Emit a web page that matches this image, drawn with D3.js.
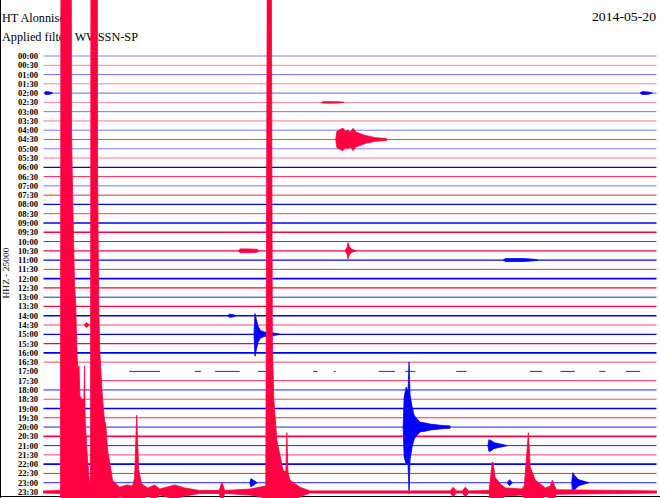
<!DOCTYPE html>
<html><head><meta charset="utf-8">
<script src="https://cdn.jsdelivr.net/npm/d3@7"></script>
<style>html,body{margin:0;padding:0;background:#fff;}svg{display:block;}</style>
</head><body>
<script>
// ---------- DATA ----------
const station = "HT Alonnisos";
const filterText = "Applied filter: WWSSN-SP";
const dateText = "2014-05-20";
const channelText = "HHZ - 25000";
const traceLabels = ["00:00","00:30","01:00","01:30","02:00","02:30","03:00","03:30","04:00","04:30","05:00","05:30",
"06:00","06:30","07:00","07:30","08:00","08:30","09:00","09:30","10:00","10:30","11:00","11:30",
"12:00","12:30","13:00","13:30","14:00","14:30","15:00","15:30","16:00","16:30","17:00","17:30",
"18:00","18:30","19:00","19:30","20:00","20:30","21:00","21:30","22:00","22:30","23:00","23:30"];
// background noise level of each trace (thousand counts)
const traceNoise = [1.0,1.0,1.2,1.0,1.5,1.0,1.2,1.2,1.2,2.0,1.0,1.2,
3.0,2.5,1.2,2.5,3.0,2.0,3.0,3.0,2.0,3.0,3.0,2.5,
3.5,3.0,2.5,3.0,3.5,2.0,3.0,3.0,3.5,2.0,2.5,2.5,
2.5,2.0,3.5,2.5,2.5,3.5,2.5,2.0,3.5,2.5,2.5,3.0];
// recorded segments (minutes) for traces with data gaps
const segments1700 = [[4.2,5.7],[7.4,7.7],[8.4,9.6],[10.5,11.1],[13.2,13.4],[14.2,14.3],[16.4,17.2],[17.7,18.2],[20.2,20.7],[23.8,24.4],[25.3,26.0],[27.2,27.5],[28.5,29.2]];
const segments1730 = [[2.8,30]];
// event envelopes: [minute, amplitude up (k counts), amplitude down (k counts, optional)]
const ev0200a = [[0.05,0],[0.1,4],[0.3,3],[0.45,0]];
const ev0200b = [[29.2,0],[29.3,4],[29.6,3],[29.8,0]];
const ev0230 = [[13.6,0],[13.7,2],[14.1,2],[14.5,1.5],[14.7,0]];
const ev0430 = [[14.3,0],[14.36,22],[14.51,27],[14.66,30],[14.78,22],[14.9,25],[15.02,20],[15.15,30],[15.29,20],[15.49,16],[15.74,11],[15.98,8],[16.23,5],[16.47,4],[16.81,2]];
const ev1030a = [[9.55,0],[9.62,5],[10.0,5],[10.45,4],[10.55,0]];
const ev1030b = [[14.75,0],[14.85,8],[14.9,22],[14.98,10],[15.1,4],[15.3,0]];
const ev1100 = [[22.5,0],[22.6,4],[23.5,4],[24.0,2],[24.2,0]];
const ev1400 = [[9.0,0],[9.1,4],[9.3,3],[9.4,0]];
const ev1430a = [[2.0,0],[2.1,7],[2.25,0]];
const ev1430b = [[10.95,0],[11.0,10],[11.1,0]];
const ev1500 = [[10.3,0],[10.35,56,59],[10.42,40],[10.5,22],[10.62,10],[10.8,6],[11.2,4],[11.6,0]];
const ev2000 = [[17.6,0],[17.65,81],[17.75,108,100],[17.84,95],[17.89,175,180],[17.94,86],[18.04,54],[18.14,32],[18.28,22],[18.43,13],[18.68,11],[18.92,8],[19.41,5],[19.9,3]];
const ev2100 = [[21.75,0],[21.8,16],[21.9,14],[22.05,8],[22.3,5],[22.55,2],[22.7,0]];
const ev2300a = [[10.1,0],[10.15,11],[10.3,6],[10.45,0]];
const ev2300b = [[22.7,0],[22.8,8],[22.95,0]];
const ev2300c = [[25.85,0],[25.9,27,30],[26.0,18],[26.2,8],[26.5,3],[26.7,0]];
// the large 23:30 recording (envelope, k counts)
const ev2330 = [[0,3],[0.83,4],[0.86,2000],[1.35,2000],[1.37,975],[1.42,810],[1.52,555],[1.57,515],[1.62,410],[1.67,330],[1.74,340],[1.78,260],[1.86,250],[1.98,250],[2.01,340],[2.04,190],[2.16,85],[2.25,27],[2.30,32],[2.33,2000],[2.62,2000],[2.65,840],[2.70,515],[2.75,380],[2.89,250],[2.99,190],[3.04,185],[3.14,113],[3.38,32],[3.73,13],[4.07,19],[4.36,16],[4.46,38],[4.56,207],[4.66,59],[4.80,22],[5.10,11],[5.44,19],[5.69,8],[6.42,19],[6.91,11],[7.65,4],[8.6,4],[8.73,27],[8.87,4],[10.10,8],[10.88,16],[10.98,2000],[11.12,2000],[11.2,400],[11.27,250],[11.42,140],[11.72,59],[11.86,54],[11.91,160],[11.96,54],[12.06,32],[12.55,13],[13.04,3],[19.9,3],[20.05,13],[20.2,3],[20.5,3],[20.64,13],[20.8,3],[21.81,4],[21.96,80],[22.0,80],[22.1,40],[22.35,22],[22.6,11],[23.4,8],[23.53,16],[23.73,160],[23.82,67],[24.07,32],[24.56,11],[24.8,16],[24.9,32],[25.1,6],[30,3]];
const events = [
  {trace:"02:00", env:ev0200a},{trace:"02:00", env:ev0200b},{trace:"02:30", env:ev0230},
  {trace:"04:30", env:ev0430},{trace:"10:30", env:ev1030a},{trace:"10:30", env:ev1030b},
  {trace:"11:00", env:ev1100},{trace:"14:00", env:ev1400},{trace:"14:30", env:ev1430a},{trace:"14:30", env:ev1430b},
  {trace:"15:00", env:ev1500},{trace:"20:00", env:ev2000},{trace:"21:00", env:ev2100},
  {trace:"23:00", env:ev2300a},{trace:"23:00", env:ev2300b},{trace:"23:00", env:ev2300c},
  {trace:"23:30", env:ev2330}
];
const gapTraces = {"17:00": segments1700, "17:30": segments1730};

// ---------- DRAW ----------
const W = 660, H = 498;
const blue = "#0000ff", red = "#ff0040";
const svg = d3.select("body").append("svg").attr("width", W).attr("height", H);

const x = d3.scaleLinear().domain([0, 30]).range([43.5, 656.5]);
const row = d3.scalePoint().domain(traceLabels).range([56, 492]);
const amp = d3.scaleLinear().domain([0, 25]).range([0, row.step()]);
const color = (lab, i) => i % 2 === 0 ? blue : red;
const opac = d3.scaleLinear().domain([1, 3]).range([0.5, 1]).clamp(true);
const widthS = d3.scaleLinear().domain([2.5, 3.5]).range([1, 1.6]).clamp(true);

// frame
svg.append("line").attr("x1",0.5).attr("x2",0.5).attr("y1",0).attr("y2",H).attr("stroke","#000").attr("stroke-width",1);
svg.append("line").attr("x1",0).attr("x2",W).attr("y1",496.5).attr("y2",496.5).attr("stroke","#000").attr("stroke-width",1);

// texts
const serif = "'Liberation Serif', 'Times New Roman', serif";
svg.append("text").attr("x",2).attr("y",22).attr("font-family",serif).attr("font-size",12.5)
  .attr("textLength",68).attr("lengthAdjust","spacingAndGlyphs").text(station);
svg.append("text").attr("x",2).attr("y",41).attr("font-family",serif).attr("font-size",12.5)
  .attr("textLength",136).attr("lengthAdjust","spacingAndGlyphs").text(filterText);
svg.append("text").attr("x",656).attr("y",21).attr("text-anchor","end").attr("font-family",serif).attr("font-size",12.5)
  .attr("textLength",64).attr("lengthAdjust","spacingAndGlyphs").text(dateText);
svg.append("text").attr("transform","translate(9,273) rotate(-90)").attr("text-anchor","middle")
  .attr("font-family",serif).attr("font-size",9).attr("textLength",51).attr("lengthAdjust","spacingAndGlyphs").text(channelText);

// time labels
svg.append("g").selectAll("text").data(traceLabels).join("text")
  .attr("x",38).attr("y",d=>row(d)+3).attr("text-anchor","end")
  .attr("font-family",serif).attr("font-size",9).attr("font-weight","bold")
  .attr("textLength",20).attr("lengthAdjust","spacingAndGlyphs").text(d=>d);

// baselines
const gLines = svg.append("g");
traceLabels.forEach((lab, i) => {
  const segs = gapTraces[lab] || [[0, 30]];
  segs.forEach(s => {
    gLines.append("line").attr("x1", x(s[0])).attr("x2", x(s[1]))
      .attr("y1", row(lab)).attr("y2", row(lab))
      .attr("stroke", color(lab, i)).attr("stroke-opacity", opac(traceNoise[i]))
      .attr("stroke-width", widthS(traceNoise[i]));
  });
});

// event envelopes
const area = d3.area().x(d => x(d[0]));
const gEv = svg.append("g");
events.forEach(e => {
  const i = traceLabels.indexOf(e.trace);
  const y0 = row(e.trace);
  gEv.append("path")
    .attr("d", area.y0(d => y0 - amp(d[1])).y1(d => y0 + amp(d.length > 2 ? d[2] : d[1]))(e.env))
    .attr("fill", color(e.trace, i)).attr("stroke", color(e.trace, i)).attr("stroke-width", 0.8);
});
</script>
</body></html>
